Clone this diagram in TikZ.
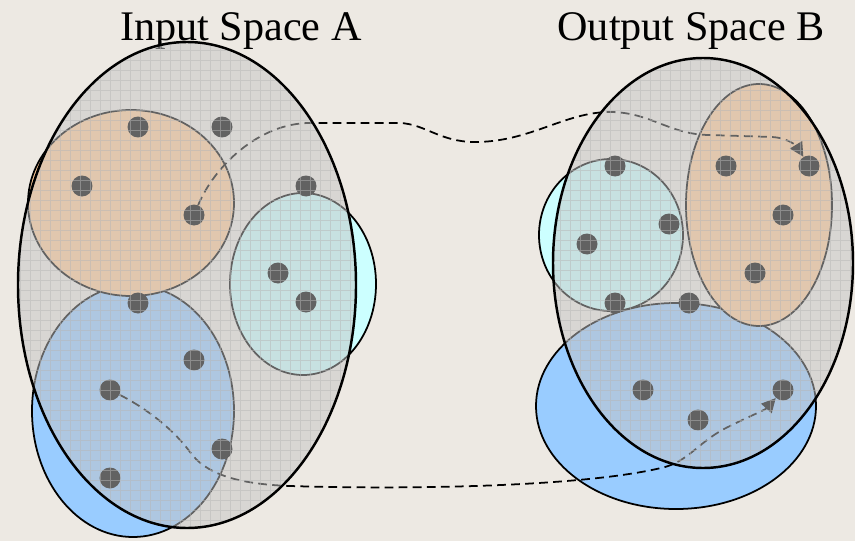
\documentclass[tikz,border=0pt]{standalone}
\usepackage{fontspec}
\setmainfont{Liberation Serif}
\usetikzlibrary{arrows.meta}

\definecolor{fundo}{RGB}{237,233,227}
\definecolor{laranja}{RGB}{255,204,153}
\definecolor{ciano}{RGB}{204,255,255}
\definecolor{azul}{RGB}{153,204,255}
\definecolor{nevoa}{RGB}{196,196,196}
\definecolor{grade}{RGB}{183,183,183}

\begin{document}
\begin{tikzpicture}[x=0.02cm, y=-0.02cm,
    subconj/.style={draw, line width=1pt},
    conjunto/.style={draw, line width=1.4pt},
    ponto/.style={circle, fill=black, minimum size=0.42cm, inner sep=0pt},
    seta/.style={dash pattern=on 5pt off 3pt, line width=1pt, -{Triangle[length=8pt, width=8pt]}},
    titulo/.style={anchor=base, font=\fontsize{24}{28}\selectfont}]
  \useasboundingbox (0,0) rectangle (855,541);
  \fill[fundo] (0,0) rectangle (855,541);

  % Titulos
  \node[titulo] (tA) at (241,40) {Input Space A};
  \node[titulo] (tB) at (691,40) {Output Space B};

  % Subconjuntos de A
  \draw[subconj, fill=azul] (133,411) ellipse [x radius=101, y radius=126];
  \draw[subconj, fill=laranja] (131,203) ellipse [x radius=103, y radius=93];
  \draw[subconj, fill=ciano] (303,284) ellipse [x radius=73, y radius=91];

  % Subconjuntos de B
  \draw[subconj, fill=azul] (676,406) ellipse [x radius=140, y radius=103];
  \draw[subconj, fill=ciano] (611,235) ellipse [x radius=72, y radius=76];
  \draw[subconj, fill=laranja] (759,205) ellipse [x radius=73, y radius=121];

  % Elementos de A
  \foreach \n/\x/\y in {1/138/127, 2/222/127, 3/82/186, 4/194/215, 5/306/186, 6/278/273,
                        7/306/302, 8/138/303, 9/194/360, 10/110/390, 11/222/449, 12/110/478} {
    \node[ponto] (a\n) at (\x,\y) {};
  }

  % Elementos de B
  \foreach \n/\x/\y in {1/615/166, 2/726/166, 3/809/166, 4/587/244, 5/669/224, 6/783/215,
                        7/755/273, 8/615/303, 9/689/303, 10/643/390, 11/698/420, 12/783/390} {
    \node[ponto] (b\n) at (\x,\y) {};
  }

  % Setas entre os espacos
  \draw[seta] (a4) .. controls (215,165) and (260,123) .. (310,123) -- (400,123)
    .. controls (425,124) and (440,142) .. (475,142)
    .. controls (530,142) and (565,112) .. (610,112)
    .. controls (650,112) and (670,135) .. (710,135) -- (772,137)
    .. controls (790,138) and (798,148) .. (b3);
  \draw[seta] (a10) .. controls (140,405) and (170,425) .. (190,452)
    .. controls (205,473) and (235,484) .. (290,486)
    .. controls (420,490) and (590,486) .. (665,467)
    .. controls (690,460) and (700,440) .. (730,426)
    .. controls (750,416) and (765,410) .. (b12);

  % Conjuntos A e B
  \foreach \cx/\cy/\rx/\ry in {187/285/169/243, 703/263/150/205} {
    \fill[nevoa, fill opacity=0.5] (\cx,\cy) ellipse [x radius=\rx, y radius=\ry];
    \begin{scope}
      \clip (\cx,\cy) ellipse [x radius=\rx, y radius=\ry];
      \draw[grade, opacity=0.5, line width=0.45pt]
        \foreach \g in {0,10,...,850} {(\g,0) -- (\g,541)}
        \foreach \g in {0,10,...,540} {(0,\g) -- (855,\g)};
    \end{scope}
    \draw[conjunto] (\cx,\cy) ellipse [x radius=\rx, y radius=\ry];
  }
\end{tikzpicture}
\end{document}
